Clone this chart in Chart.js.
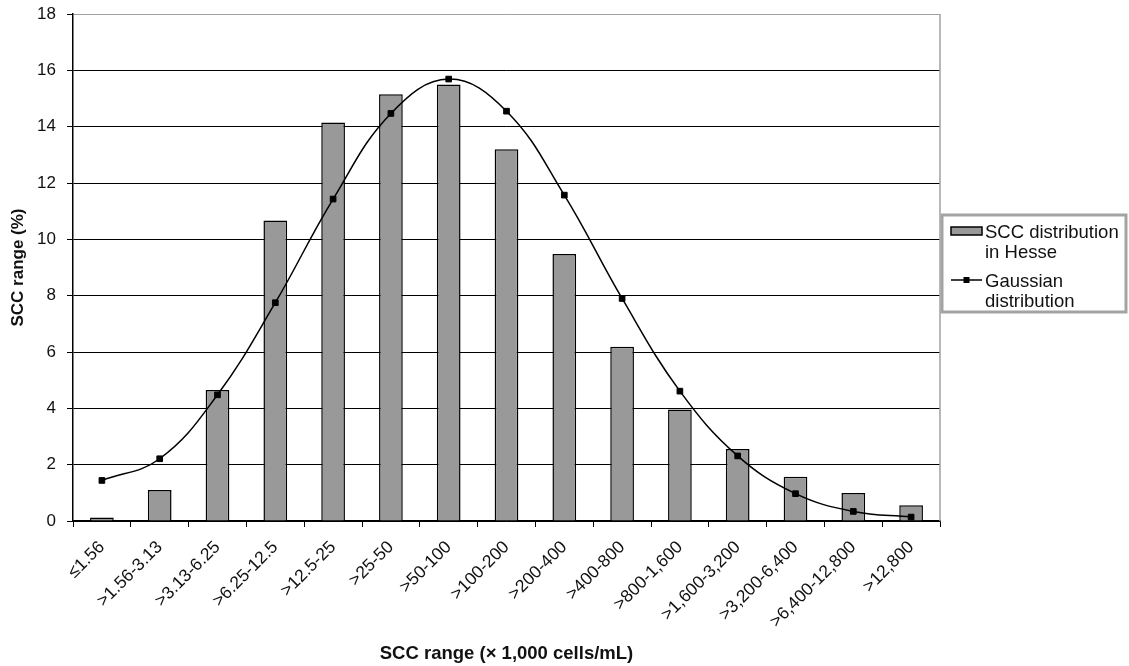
<!DOCTYPE html>
<html>
<head>
<meta charset="utf-8">
<script src="https://cdn.jsdelivr.net/npm/chart.js@4"></script>
<style>
    body { margin: 0; background: #fff; }
    #wrap { width: 1129px; height: 666px; position: relative; }
</style>
</head>
<body>
<div id="wrap"><canvas id="sccChart"></canvas></div>
<script>
// SCC distribution in Hesse vs. fitted Gaussian

const categories = ['≤1.56', '>1.56-3.13', '>3.13-6.25', '>6.25-12.5', '>12.5-25', '>25-50', '>50-100',
    '>100-200', '>200-400', '>400-800', '>800-1,600', '>1,600-3,200', '>3,200-6,400', '>6,400-12,800', '>12,800'];
const hesseValues = [0.12, 1.1, 4.65, 10.67, 14.15, 15.15, 15.5, 13.2, 9.48, 6.19, 3.96, 2.56, 1.57, 0.99, 0.56];
const gaussianValues = [1.44, 2.21, 4.48, 7.75, 11.43, 14.47, 15.69, 14.55, 11.57, 7.9, 4.61, 2.31, 0.97, 0.34, 0.14];
const yTicks = [0, 2, 4, 6, 8, 10, 12, 14, 16, 18];
const legendLabels = [['SCC distribution', 'in Hesse'], ['Gaussian', 'distribution']];

const FONT = "'Liberation Sans', Arial, sans-serif";

// right border of the plot + boxed legend, Excel style
const excelFrame = {
    id: 'excelFrame',
    afterDraw(chart) {
        const { ctx, chartArea } = chart;
        ctx.save();
        ctx.strokeStyle = '#a0a0a0';
        ctx.lineWidth = 1.5;
        ctx.beginPath();
        ctx.moveTo(chartArea.right, chartArea.top);
        ctx.lineTo(chartArea.right, chartArea.bottom);
        ctx.stroke();

        // legend box
        const box = { x: 942, y: 215, w: 184, h: 97 };
        ctx.strokeStyle = '#a3a3a3';
        ctx.lineWidth = 3;
        ctx.strokeRect(box.x, box.y, box.w, box.h);

        // bar swatch
        ctx.fillStyle = '#999999';
        ctx.fillRect(951, 227, 31, 8);
        ctx.strokeStyle = '#000';
        ctx.lineWidth = 1.5;
        ctx.strokeRect(951, 227, 31, 8);

        // line swatch
        ctx.beginPath();
        ctx.lineWidth = 1.5;
        ctx.moveTo(951, 280);
        ctx.lineTo(982, 280);
        ctx.stroke();
        ctx.fillStyle = '#000';
        ctx.fillRect(963.5, 277, 6, 6);

        ctx.font = `18.5px ${FONT}`;
        ctx.fillStyle = '#111';
        ctx.textBaseline = 'middle';
        ctx.textAlign = 'left';
        const rows = [[232.5, 253], [281.5, 301.5]];
        legendLabels.forEach((lines, i) => {
            lines.forEach((line, j) => ctx.fillText(line, 985, rows[i][j]));
        });
        ctx.restore();
    }
};

document.addEventListener('DOMContentLoaded', () => {
    const ctx = document.getElementById('sccChart').getContext('2d');

    new Chart(ctx, {
        type: 'bar',
        data: {
            labels: categories,
            datasets: [{
                type: 'line',
                label: 'Gaussian distribution',
                data: gaussianValues,
                borderColor: '#000',
                borderWidth: 1.5,
                tension: 0.4,
                pointStyle: 'rect',
                pointRadius: 4,
                pointBackgroundColor: '#000',
                pointBorderColor: '#000',
                pointBorderWidth: 1,
                order: 0
            }, {
                label: 'SCC distribution in Hesse',
                data: hesseValues,
                backgroundColor: '#999999',
                borderColor: '#000',
                borderWidth: 1.5,
                categoryPercentage: 1,
                barPercentage: 0.41,
                order: 1
            }]
        },
        options: {
            responsive: true,
            maintainAspectRatio: false,
            animation: false,
            layout: {
                padding: { top: 14, right: 189, bottom: 0, left: 0 }
            },
            plugins: {
                legend: { display: false },
                tooltip: { enabled: false }
            },
            scales: {
                x: {
                    offset: true,
                    grid: {
                        offset: true,
                        drawOnChartArea: false,
                        drawTicks: true,
                        tickLength: 6,
                        color: '#000'
                    },
                    border: { color: '#000', width: 1.5 },
                    ticks: {
                        autoSkip: false,
                        minRotation: 45,
                        maxRotation: 45,
                        padding: 10,
                        color: '#111',
                        font: { family: FONT, size: 17.5 }
                    },
                    title: {
                        display: true,
                        text: 'SCC range (× 1,000 cells/mL)',
                        color: '#111',
                        padding: { top: 0, bottom: 1 },
                        font: { family: FONT, size: 18.5, weight: 'bold' }
                    },
                    afterFit: (scale) => { scale.height = 145; }
                },
                y: {
                    min: 0,
                    max: 18,
                    afterBuildTicks: (scale) => { scale.ticks = yTicks.map(v => ({ value: v })); },
                    grid: {
                        color: (c) => (c.tick && c.tick.value === 18 ? '#a0a0a0' : '#000'),
                        lineWidth: 1,
                        tickLength: 6,
                        tickColor: '#000'
                    },
                    border: { color: '#000', width: 1.5 },
                    ticks: {
                        padding: 11,
                        color: '#111',
                        font: { family: FONT, size: 17 }
                    },
                    title: {
                        display: true,
                        text: 'SCC range (%)',
                        color: '#111',
                        padding: { top: 8, bottom: 0 },
                        font: { family: FONT, size: 17, weight: 'bold' }
                    },
                    afterFit: (scale) => {
                        scale.width = 73;
                        scale.paddingTop = 0;
                        scale.paddingBottom = 0;
                    }
                }
            }
        },
        plugins: [excelFrame]
    });
});
</script>
</body>
</html>
